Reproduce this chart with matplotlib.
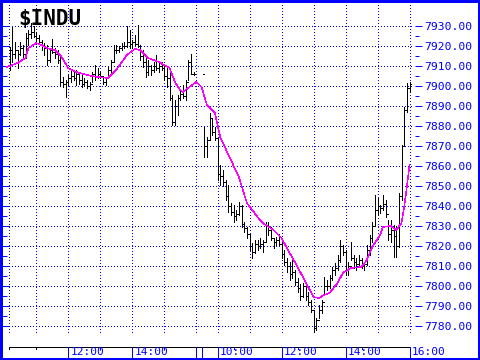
import matplotlib
matplotlib.use("Agg")
import matplotlib.pyplot as plt
from matplotlib.patches import Rectangle
from matplotlib.ticker import FormatStrFormatter
import numpy as np

# 5-minute bars, day 1 from 10:10, day 2 from 9:35 (minutes after 9:30)
day1_high = [7919.5, 7929.5, 7922, 7918, 7922, 7920.5, 7926.5, 7928, 7931.5, 7930,
             7927, 7925.5, 7923, 7921.5, 7920.5, 7919, 7923.5, 7919, 7918, 7915.5,
             7904.5, 7903, 7905.5, 7908, 7907, 7908, 7906, 7906.5, 7904, 7903,
             7902, 7907, 7910.5, 7909, 7907, 7904, 7904.5, 7909.5, 7913, 7920.5,
             7920.5, 7920, 7921.5, 7922, 7930, 7928, 7923, 7925.5, 7930.5, 7920.5,
             7918, 7914, 7913, 7910.5, 7912, 7915.5, 7912, 7912, 7910.5, 7909,
             7908, 7895.5, 7893, 7895.5, 7898, 7900.5, 7903, 7913, 7916, 7907]
day1_low = [7908, 7912, 7914, 7909, 7915.5, 7914, 7914, 7920.5, 7924, 7924.5,
            7922, 7921, 7918, 7915.5, 7910.5, 7912, 7916.5, 7914, 7911.5, 7900,
            7899.5, 7894.5, 7900.5, 7902, 7903, 7900.5, 7901, 7899.5, 7900, 7899,
            7898, 7902, 7903, 7904, 7904, 7901, 7900.5, 7905.5, 7907, 7912,
            7916.5, 7917, 7918, 7919, 7919.5, 7919, 7919, 7920.5, 7919.5, 7913,
            7909.5, 7904.5, 7905.5, 7905.5, 7907, 7908, 7907, 7908, 7903, 7899.5,
            7893, 7880.5, 7880.5, 7885.5, 7893, 7894, 7893, 7903, 7906, 7905.5]
day1_close = [7918, 7916, 7918, 7916, 7919, 7916, 7924, 7926, 7927, 7925,
              7924, 7922, 7920, 7919, 7913, 7918, 7917, 7916, 7913, 7902,
              7901, 7902, 7904, 7905, 7904, 7906, 7903, 7901, 7902, 7900,
              7901, 7906, 7905, 7906, 7905, 7902, 7904, 7908, 7912, 7918,
              7918, 7919, 7920, 7920, 7922, 7921, 7922, 7921, 7920, 7915,
              7912, 7907, 7910, 7908, 7910, 7909, 7910, 7909, 7905, 7904,
              7894, 7882, 7890, 7894, 7896, 7895, 7902, 7912, 7906, 7906]

day2_high = [7879.5, 7874.5, 7886.5, 7884, 7879.5, 7874, 7860.5, 7858, 7853, 7850.5,
             7841.5, 7840.5, 7838, 7842, 7840.5, 7832, 7829.5, 7825.5, 7821.5, 7823,
             7823, 7824, 7823, 7832, 7832, 7829.5, 7824, 7824.5, 7826, 7823,
             7818, 7814, 7812, 7813, 7808, 7804, 7801, 7801.5, 7800.5, 7797,
             7793, 7787, 7784, 7790.5, 7793, 7804.5, 7803, 7805.5, 7809.5, 7811.5,
             7815.5, 7823, 7820.5, 7818, 7812, 7822, 7815.5, 7814, 7815.5, 7814,
             7812, 7820.5, 7825.5, 7832, 7845.5, 7844, 7840.5, 7845.5, 7843, 7833,
             7833, 7830.5, 7830, 7846.5, 7870.5, 7889.5, 7901.5, 7902]
day2_low = [7864.5, 7864.5, 7873, 7875.5, 7873, 7853, 7850.5, 7850, 7843, 7837,
            7835.5, 7832, 7833, 7835.5, 7829.5, 7827, 7824, 7818, 7814, 7816.5,
            7818, 7819, 7817, 7822, 7825.5, 7823, 7819, 7820.5, 7820.5, 7814,
            7810.5, 7807, 7803, 7804, 7800.5, 7797, 7793, 7794.5, 7793, 7790.5,
            7787, 7777, 7778, 7784, 7786.5, 7795.5, 7798, 7799, 7803, 7805.5,
            7808, 7812, 7815.5, 7805.5, 7805.5, 7813, 7809, 7808, 7810, 7809,
            7808, 7810.5, 7815.5, 7822, 7830.5, 7835.5, 7836.5, 7838, 7834.5, 7823,
            7822, 7814.5, 7814.5, 7819.5, 7843, 7870.5, 7887, 7897]
day2_close = [7870, 7873, 7884, 7877, 7874, 7856, 7855, 7852, 7845, 7840,
              7837, 7835, 7836, 7840, 7831, 7829, 7826, 7820, 7817, 7821,
              7820, 7821, 7822, 7830, 7828, 7824, 7822, 7823, 7821, 7816,
              7812, 7810, 7806, 7807, 7802, 7799, 7795, 7800, 7795, 7792,
              7788, 7779, 7783, 7788, 7792, 7800, 7800, 7804, 7808, 7809,
              7813, 7820, 7817, 7808, 7810, 7814, 7812, 7811, 7813, 7810,
              7811, 7818, 7824, 7830, 7838, 7840, 7839, 7841, 7836, 7826,
              7828, 7825, 7820, 7845, 7870, 7888, 7899, 7901]

# moving average (minutes after 9:30, value)
ma1_min = [35, 55, 70, 75, 90, 100, 110, 125, 135, 150, 165, 185, 205, 225, 240,
           260, 275, 285, 300, 320, 340, 350, 360, 365, 375, 390]
ma1_val = [7909.5, 7911.5, 7914, 7919, 7921.5, 7920.5, 7919, 7918, 7915.5, 7909,
           7907, 7905.5, 7904.5, 7904, 7908, 7915.5, 7918.5, 7918, 7914, 7912,
           7909, 7902, 7898, 7897, 7899, 7902]
ma2_min = [0, 10, 25, 35, 55, 70, 85, 105, 115, 135, 150, 160, 180, 200, 210, 220,
           230, 240, 255, 265, 280, 300, 310, 320, 335, 340, 355, 365, 375, 380,
           385, 390]
ma2_val = [7899.5, 7890.5, 7886.5, 7874.5, 7863, 7854.5, 7841.5, 7834.5, 7831.5,
           7828, 7824, 7819, 7809.5, 7799.5, 7794.5, 7794, 7795.5, 7796.5, 7801.5,
           7806.5, 7809, 7809.5, 7813, 7819.5, 7825.5, 7829.5, 7830, 7828, 7831.5,
           7839.5, 7849.5, 7860.5]

day2_offset = 400  # x position of day-2 open (minutes)
grid_minutes = [39, 90, 150, 210, 270, 330, 390,
                430, 490, 550, 610, 670, 730, 790]
label_minutes = [150, 270, 430, 550, 670, 790]
label_texts = ["12:00", "14:00", "10:00", "12:00", "14:00", "16:00"]
plain_ticks = [39, 90]
label_ticks = [210, 330, 460, 580, 700]
price_major = np.arange(7780, 7931, 10)
price_minor = np.arange(7785, 7930, 10)

BLUE = "#0000FF"
MAG = "#FF00FF"
PX = 0.72  # one pixel in points at dpi 100
plt.rcParams["lines.scale_dashes"] = False
DOT = (0, (0.4 * PX, 2.6 * PX))

x1 = 40 + 5 * np.arange(len(day1_high))
x2 = day2_offset + 5 + 5 * np.arange(len(day2_high))
xs = np.concatenate([x1, x2])
hi = np.array(day1_high + day2_high)
lo = np.array(day1_low + day2_low)
cl = np.array(day1_close + day2_close)
op = np.concatenate([[cl[0]], cl[:-1]])

ma_x = np.concatenate([ma1_min, np.array(ma2_min) + day2_offset])
ma_y = np.array(ma1_val + ma2_val)

fig = plt.figure(figsize=(4.8, 3.6), dpi=100)
xlim = (25.7, 800.3)

ax = fig.add_axes([2 / 480, 14 / 360, 413 / 480, 344 / 360])
ax.set_xlim(*xlim)
ax.set_ylim(7770, 7942)
for s in ax.spines.values():
    s.set_visible(False)
ax.set_xticks([])

# price grid
ax.hlines(price_major, 28, 795, color=BLUE, lw=PX, linestyles=[DOT],
          antialiased=False, zorder=1)
ax.vlines(grid_minutes, 7777, 7942, color=BLUE, lw=PX, linestyles=[DOT],
          antialiased=False, zorder=1)

# left ticks
ax.set_yticks(price_major)
ax.set_yticks(price_minor, minor=True)
ax.tick_params(axis="y", which="both", direction="in", color=BLUE, width=PX,
               left=True, right=False, labelleft=False)
ax.tick_params(axis="y", which="major", length=7 * PX)
ax.tick_params(axis="y", which="minor", length=5 * PX)

# right ticks with labels
ax2 = ax.twinx()
ax2.set_ylim(ax.get_ylim())
for s in ax2.spines.values():
    s.set_visible(False)
ax2.set_yticks(price_major)
ax2.set_yticks(price_minor, minor=True)
ax2.yaxis.set_major_formatter(FormatStrFormatter("%.2f"))
ax2.tick_params(axis="y", which="both", direction="out", color=BLUE, width=PX,
                labelcolor=BLUE, labelsize=8.2, pad=1.5)
ax2.tick_params(axis="y", which="major", length=7 * PX)
ax2.tick_params(axis="y", which="minor", length=4 * PX)
for t in ax2.get_yticklabels():
    t.set_fontfamily("DejaVu Sans Mono")

# OHLC bars
w = 1.875
ax.vlines(xs, lo, hi, color="black", lw=PX, antialiased=False, zorder=3)
ax.hlines(op, xs - w, xs, color="black", lw=PX, antialiased=False, zorder=3)
ax.hlines(cl, xs, xs + w, color="black", lw=PX, antialiased=False, zorder=3)

# moving average
ax.plot(ma_x, ma_y, color=MAG, lw=0.5 * PX, antialiased=False, zorder=4)

# time axis
tx = fig.add_axes([2 / 480, 2 / 360, 413 / 480, 12 / 360])
tx.set_xlim(*xlim)
tx.set_ylim(12, 0)
tx.axis("off")
tx.hlines(0.5, 39, 790, color="black", lw=PX, antialiased=False)
tx.vlines(plain_ticks, 0.5, 3, color="black", lw=PX, antialiased=False)
tx.vlines(label_ticks, 0.5, 3, color=BLUE, lw=PX, antialiased=False)
tx.vlines(label_minutes + [390, 400], 0.5, 12, color=BLUE, lw=PX,
          antialiased=False)
for m, s in zip(label_minutes, label_texts):
    tx.text(m + 4, 6.3, s, color=BLUE, fontsize=8, family="DejaVu Sans Mono",
            ha="left", va="center")

fig.text(18 / 480, 1 - 18.5 / 360, "$INDU", fontsize=15, family="DejaVu Sans Mono",
         fontweight="bold", ha="left", va="center", color="black",
         parse_math=False)

fig.add_artist(Rectangle((0, 0), 1, 1, transform=fig.transFigure, fill=False,
                         edgecolor=BLUE, lw=5 * PX))

fig.savefig("out.png", dpi=100)
